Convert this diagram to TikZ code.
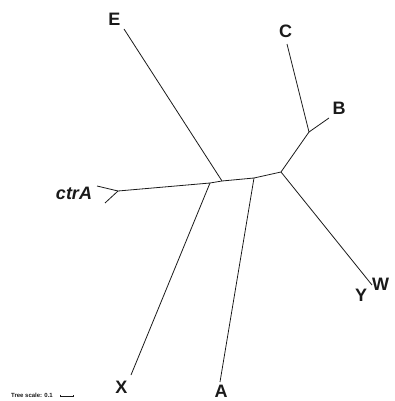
\documentclass[tikz,border=0pt]{standalone}
\usepackage{fontspec}
\setmainfont{Liberation Sans}
\usepackage{xcolor}
\definecolor{treeink}{HTML}{1A1A1A}

\begin{document}
\begin{tikzpicture}[x=1pt, y=-1pt,
                    every node/.style={treeink, font=\fontsize{18}{18}\selectfont\bfseries, inner sep=0pt},
                    branch/.style={treeink, line width=0.8pt}]

%% ==== 版面 ==========================================================
\useasboundingbox (0,0) rectangle (395,401);

%% ==== 內部節點 ======================================================
\coordinate (rctr) at (118,191);
\coordinate (nX)   at (210,183);
\coordinate (nE)   at (222,181);
\coordinate (nA)   at (254,178);
\coordinate (nW)   at (281,172);
\coordinate (nBC)  at (309,132);

%% ==== 葉端 ==========================================================
\coordinate (tE)  at (124,29);
\coordinate (tC)  at (287,44);
\coordinate (tB)  at (329,118);
\coordinate (tW)  at (372,285);
\coordinate (tA)  at (220,382);
\coordinate (tX)  at (131,375);
\coordinate (tc1) at (97,186);
\coordinate (tc2) at (105,203);

%% ==== 枝 ============================================================
\draw[branch] (rctr) -- (nX) -- (nE) -- (nA) -- (nW) -- (nBC);
\draw[branch] (nX)  -- (tX);
\draw[branch] (nE)  -- (tE);
\draw[branch] (nA)  -- (tA);
\draw[branch] (nW)  -- (tW);
\draw[branch] (nBC) -- (tC);
\draw[branch] (nBC) -- (tB);

%% ctrA 的兩條短枝
\draw[branch] (rctr) -- (tc1);
\draw[branch] (rctr) -- (tc2);

%% ==== 標籤 ==========================================================
\node (lE)    at (114.5,19.5)  {E};
\node (lC)    at (285.5,31)    {C};
\node (lB)    at (339,108)     {B};
\node (lW)    at (380.5,284)   {W};
\node (lY)    at (361,295.5)   {Y};
\node (lA)    at (221,391)     {A};
\node (lX)    at (121.5,387)   {X};
\node (lctrA) at (74,193.5)    {\itshape ctrA};

%% ==== 比例尺 ========================================================
\node[font=\fontsize{6}{7}\selectfont\bfseries, anchor=west] (lscale) at (11,395) {Tree scale: 0.1};
\coordinate (sa) at (60,396);
\coordinate (sb) at (73,396);
\draw[treeink, line width=0.4pt] ([yshift=1.5pt]sa) -- (sa) -- (sb) -- ([yshift=1.5pt]sb);

\end{tikzpicture}
\end{document}
